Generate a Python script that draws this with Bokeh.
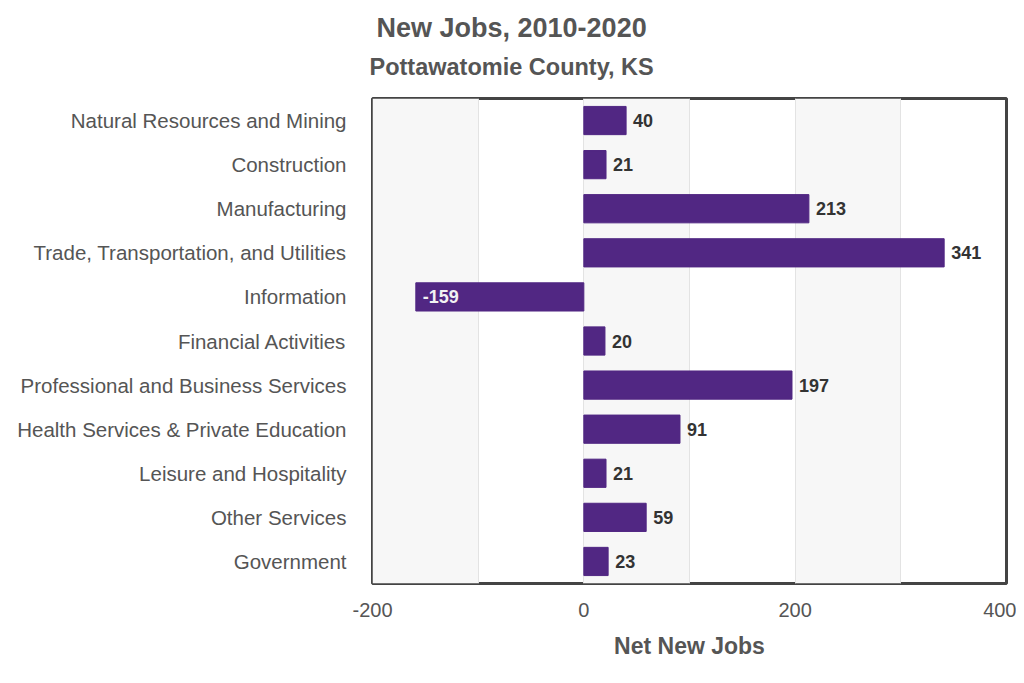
from bokeh.plotting import figure
from bokeh.models import ColumnDataSource, FactorRange, Range1d, FixedTicker, Title
from bokeh.core.properties import value
from bokeh.embed import file_html
from bokeh.resources import INLINE

categories = [
    "Natural Resources and Mining",
    "Construction",
    "Manufacturing",
    "Trade, Transportation, and Utilities",
    "Information",
    "Financial Activities",
    "Professional and Business Services",
    "Health Services & Private Education",
    "Leisure and Hospitality",
    "Other Services",
    "Government",
]
new_jobs = [40, 21, 213, 341, -159, 20, 197, 91, 21, 59, 23]
x_ticks = [-200, 0, 200, 400]
x_tick_labels = ["-200", "0", "200", "400"]
# first value repeated so that the alternating bands start with a shaded one
grid_ticks = [-200, -200, -100, 0, 100, 200, 300, 400]
title_text = "New Jobs, 2010-2020"
subtitle_text = "Pottawatomie County, KS"

FONT = "Liberation Sans"
BAR = "#512783"

src = ColumnDataSource(dict(
    cat=categories,
    val=new_jobs,
    label=[str(v) for v in new_jobs],
    tcolor=["#f2f2f2" if v < 0 else "#333333" for v in new_jobs],
))

p = figure(
    width=1016, height=676,
    y_range=FactorRange(factors=categories[::-1]),
    x_range=Range1d(-200, 400),
    output_backend="svg", toolbar_location=None,
    min_border_left=372, min_border_right=10, min_border_top=98, min_border_bottom=93,
)
p.title = None

p.hbar(y="cat", left=0, right="val", height=0.64, source=src,
       fill_color=BAR, line_color=BAR)
p.text(x="val", y="cat", text="label", source=src, x_offset=7,
       text_align="left", text_baseline="middle",
       text_font=value(FONT), text_font_size="18px", text_font_style="bold",
       text_color="tcolor")

# grids
p.ygrid.visible = False
p.xgrid.ticker = FixedTicker(ticks=grid_ticks)
p.xgrid.grid_line_color = "#e3e3e3"
p.xgrid.band_fill_color = "#f7f7f7"
p.xgrid.band_fill_alpha = 1.0

p.background_fill_color = "white"
p.border_fill_color = "white"
p.outline_line_color = "#444444"
p.outline_line_width = 3

# x axis
xa = p.xaxis[0]
xa.ticker = FixedTicker(ticks=x_ticks)
xa.major_label_overrides = {t: s for t, s in zip(x_ticks, x_tick_labels)}
xa.axis_line_color = None
xa.major_tick_line_color = None
xa.minor_tick_line_color = None
xa.major_label_text_font = FONT
xa.major_label_text_font_size = "20px"
xa.major_label_text_color = "#555555"
xa.major_label_standoff = 13
xa.axis_label = "Net New Jobs"
xa.axis_label_text_font = FONT
xa.axis_label_text_font_size = "23px"
xa.axis_label_text_font_style = "bold"
xa.axis_label_text_color = "#555555"
xa.axis_label_standoff = 13

# y axis
ya = p.yaxis[0]
ya.axis_line_color = None
ya.major_tick_line_color = None
ya.minor_tick_line_color = None
ya.major_label_text_font = FONT
ya.major_label_text_font_size = "20.5px"
ya.major_label_text_color = "#555555"
ya.major_label_standoff = 20

# titles
sub = Title(text=subtitle_text, align="left", offset=-3,
            vertical_align="middle", text_baseline="middle",
            text_font=FONT, text_font_size="23.5px", text_font_style="bold",
            text_color="#555555", standoff=36)
p.add_layout(sub, "above")
ttl = Title(text=title_text, align="left", offset=4,
            vertical_align="middle", text_baseline="middle",
            text_font=FONT, text_font_size="27px", text_font_style="bold",
            text_color="#555555", standoff=-18)
p.add_layout(ttl, "above")

open("out.html", "w").write(file_html(p, INLINE))
